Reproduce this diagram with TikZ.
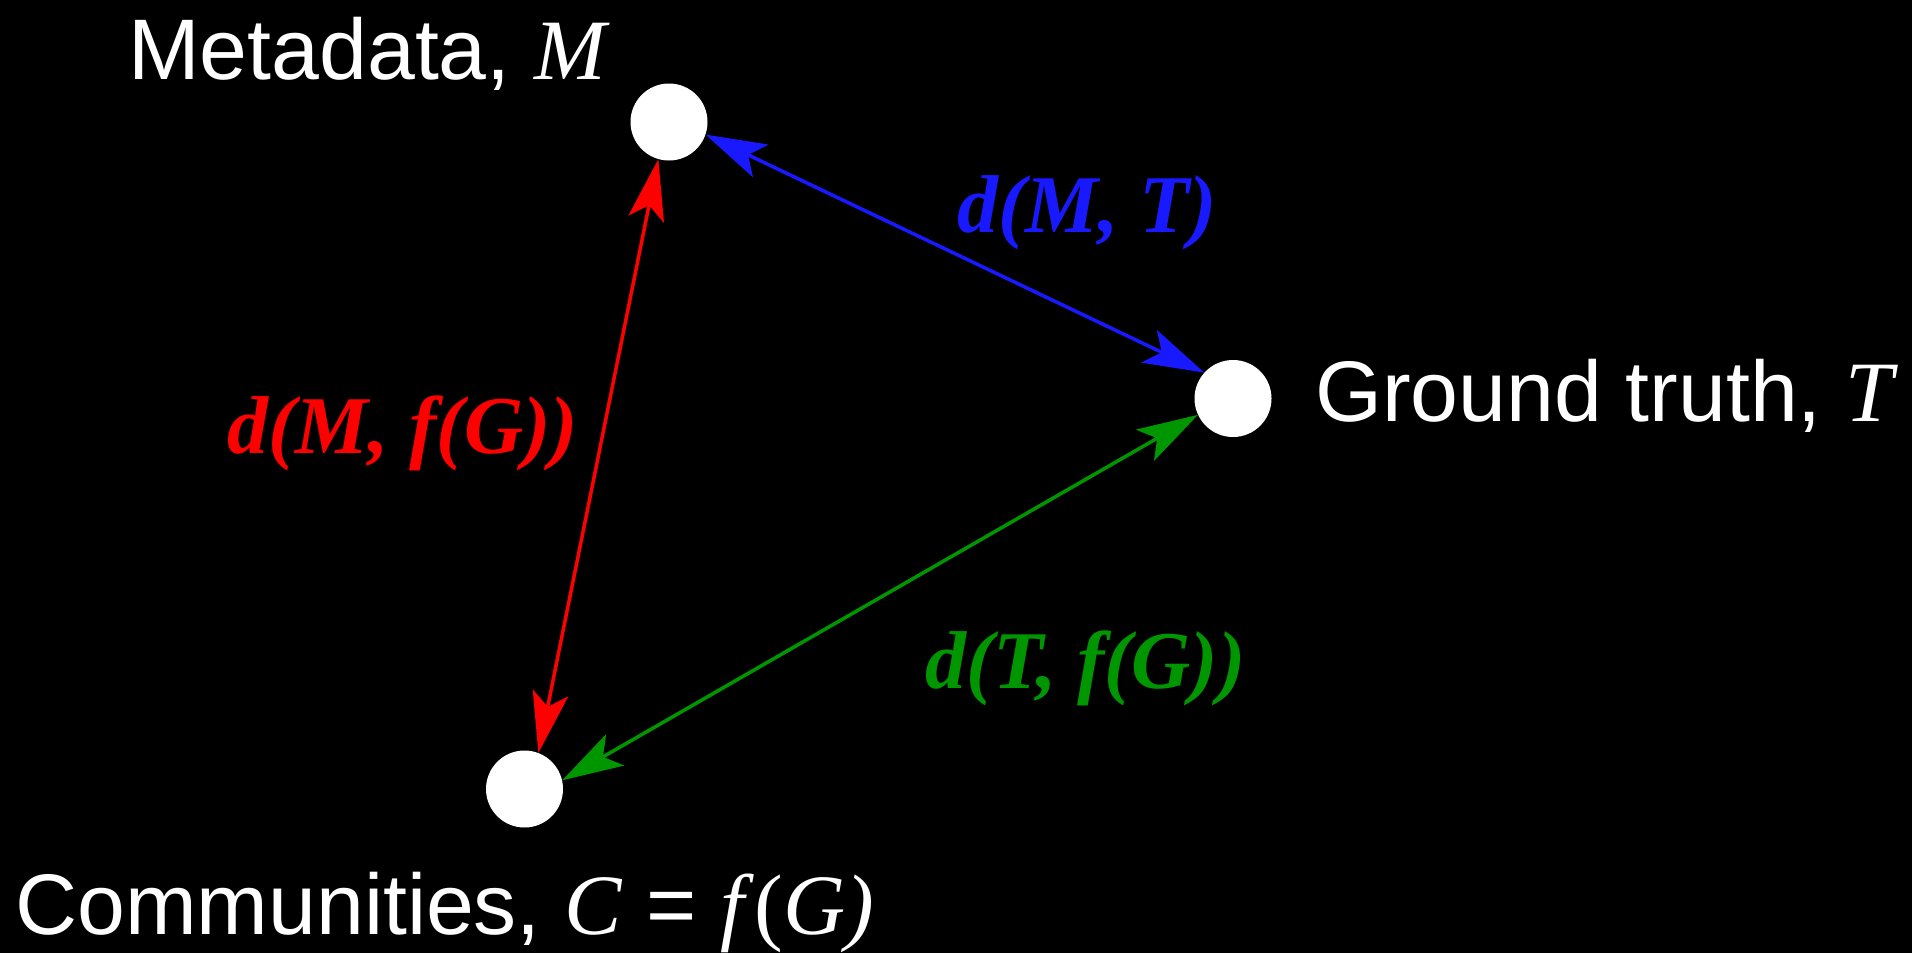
\documentclass[tikz,border=0pt]{standalone}
\usepackage{fontspec}
\setmainfont{Liberation Serif}
\setsansfont{Liberation Sans}
\usetikzlibrary{arrows.meta}
\definecolor{myblue}{RGB}{25,25,255}
\definecolor{myred}{RGB}{255,0,0}
\definecolor{mygreen}{RGB}{0,150,0}
\tikzset{
  dot/.style={circle, fill=white, draw=none, minimum size=77pt, inner sep=0pt},
  lbl/.style={text=white, inner sep=0pt, anchor=base west, font=\sffamily\fontsize{86}{100}\selectfont},
  elbl/.style={inner sep=0pt, anchor=base west, font=\rmfamily\bfseries\itshape\fontsize{82}{98}\selectfont},
  conn/.style={line width=3.5pt, {Stealth[length=61pt,width=36pt,inset=14pt]}-{Stealth[length=61pt,width=36pt,inset=14pt]}}
}
\begin{document}
\begin{tikzpicture}[x=1pt,y=-1pt]
\fill[black] (0,0) rectangle (1912,953);
\useasboundingbox (0,0) rectangle (1912,953);
\node[dot] (M) at (669,122) {};
\node[dot] (T) at (1233,398.5) {};
\node[dot] (C) at (524.5,789) {};
\node[lbl] (lM) at (128,79) {Metadata, \textrm{\itshape M}};
\node[lbl] (lT) at (1315,421) {Ground truth, \textrm{\itshape T}};
\node[lbl] (lC) at (15,934) {Communities, \textrm{\itshape C} = \textrm{\itshape f}\textrm{(\itshape G)}};
\draw[conn, myblue] (M.-19) -- (T.138);
\draw[conn, myred] (M.-106) -- (C.69);
\draw[conn, mygreen] (T.205) -- (C.13);
\node[elbl, text=myblue] (dMT) at (957,232) {d(M, T)};
\node[elbl, text=myred] (dMC) at (227,453) {d(M, f(G))};
\node[elbl, text=mygreen] (dTC) at (925,688) {d(T, f(G))};
\end{tikzpicture}
\end{document}
